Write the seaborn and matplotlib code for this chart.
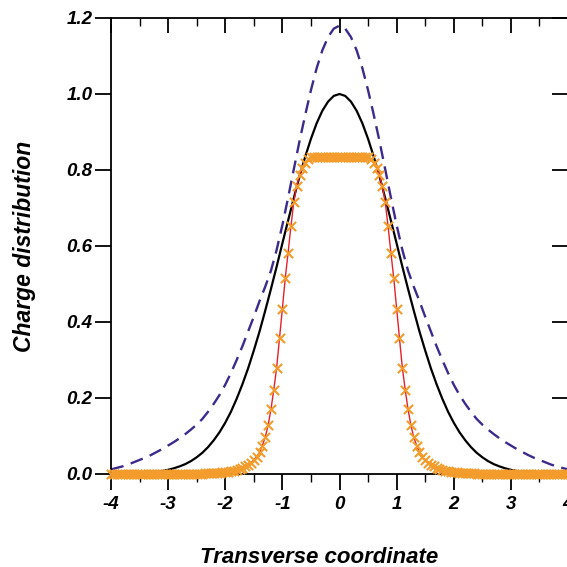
import numpy as np
import pandas as pd
import matplotlib
matplotlib.use("Agg")
import matplotlib.pyplot as plt
from matplotlib.ticker import MultipleLocator
import seaborn as sns

# ---- data -------------------------------------------------------------
# Gaussian reference profile (solid black), sampled every 0.1
x_gauss = [-4.0, -3.9, -3.8, -3.7, -3.6, -3.5, -3.4, -3.3, -3.2, -3.1,
           -3.0, -2.9, -2.8, -2.7, -2.6, -2.5, -2.4, -2.3, -2.2, -2.1,
           -2.0, -1.9, -1.8, -1.7, -1.6, -1.5, -1.4, -1.3, -1.2, -1.1,
           -1.0, -0.9, -0.8, -0.7, -0.6, -0.5, -0.4, -0.3, -0.2, -0.1,
           0.0, 0.1, 0.2, 0.3, 0.4, 0.5, 0.6, 0.7, 0.8, 0.9,
           1.0, 1.1, 1.2, 1.3, 1.4, 1.5, 1.6, 1.7, 1.8, 1.9,
           2.0, 2.1, 2.2, 2.3, 2.4, 2.5, 2.6, 2.7, 2.8, 2.9,
           3.0, 3.1, 3.2, 3.3, 3.4, 3.5, 3.6, 3.7, 3.8, 3.9, 4.0]
y_gauss = [0.000, 0.000, 0.001, 0.001, 0.002, 0.002, 0.003, 0.004, 0.006, 0.008,
           0.011, 0.015, 0.020, 0.026, 0.034, 0.044, 0.056, 0.071, 0.089, 0.110,
           0.135, 0.164, 0.198, 0.236, 0.278, 0.325, 0.375, 0.430, 0.487, 0.546,
           0.607, 0.667, 0.726, 0.783, 0.835, 0.882, 0.923, 0.956, 0.980, 0.995,
           1.000, 0.995, 0.980, 0.956, 0.923, 0.882, 0.835, 0.783, 0.726, 0.667,
           0.607, 0.546, 0.487, 0.430, 0.375, 0.325, 0.278, 0.236, 0.198, 0.164,
           0.135, 0.110, 0.089, 0.071, 0.056, 0.044, 0.034, 0.026, 0.020, 0.015,
           0.011, 0.008, 0.006, 0.004, 0.003, 0.002, 0.002, 0.001, 0.001, 0.000, 0.000]

# Broader, higher profile (dashed purple), same sampling
x_broad = x_gauss
y_broad = [0.012, 0.016, 0.020, 0.025, 0.031, 0.037, 0.043, 0.050, 0.058, 0.066,
           0.075, 0.084, 0.094, 0.105, 0.117, 0.130, 0.145, 0.164, 0.185, 0.208,
           0.235, 0.266, 0.300, 0.336, 0.375, 0.414, 0.455, 0.493, 0.535, 0.590,
           0.655, 0.727, 0.802, 0.876, 0.945, 1.010, 1.068, 1.115, 1.150, 1.172,
           1.180, 1.172, 1.150, 1.115, 1.068, 1.010, 0.945, 0.876, 0.802, 0.727,
           0.655, 0.590, 0.535, 0.493, 0.455, 0.414, 0.375, 0.336, 0.300, 0.266,
           0.235, 0.208, 0.185, 0.164, 0.145, 0.130, 0.117, 0.105, 0.094, 0.084,
           0.075, 0.066, 0.058, 0.050, 0.043, 0.037, 0.031, 0.025, 0.020, 0.016, 0.012]

# Flat-top profile (red line with orange markers), sampled every 0.05
x_flat = [-4.00, -3.95, -3.90, -3.85, -3.80, -3.75, -3.70, -3.65, -3.60, -3.55,
          -3.50, -3.45, -3.40, -3.35, -3.30, -3.25, -3.20, -3.15, -3.10, -3.05,
          -3.00, -2.95, -2.90, -2.85, -2.80, -2.75, -2.70, -2.65, -2.60, -2.55,
          -2.50, -2.45, -2.40, -2.35, -2.30, -2.25, -2.20, -2.15, -2.10, -2.05,
          -2.00, -1.95, -1.90, -1.85, -1.80, -1.75, -1.70, -1.65, -1.60, -1.55,
          -1.50, -1.45, -1.40, -1.35, -1.30, -1.25, -1.20, -1.15, -1.10, -1.05,
          -1.00, -0.95, -0.90, -0.85, -0.80, -0.75, -0.70, -0.65, -0.60, -0.55,
          -0.50, -0.45, -0.40, -0.35, -0.30, -0.25, -0.20, -0.15, -0.10, -0.05,
          0.00, 0.05, 0.10, 0.15, 0.20, 0.25, 0.30, 0.35, 0.40, 0.45,
          0.50, 0.55, 0.60, 0.65, 0.70, 0.75, 0.80, 0.85, 0.90, 0.95,
          1.00, 1.05, 1.10, 1.15, 1.20, 1.25, 1.30, 1.35, 1.40, 1.45,
          1.50, 1.55, 1.60, 1.65, 1.70, 1.75, 1.80, 1.85, 1.90, 1.95,
          2.00, 2.05, 2.10, 2.15, 2.20, 2.25, 2.30, 2.35, 2.40, 2.45,
          2.50, 2.55, 2.60, 2.65, 2.70, 2.75, 2.80, 2.85, 2.90, 2.95,
          3.00, 3.05, 3.10, 3.15, 3.20, 3.25, 3.30, 3.35, 3.40, 3.45,
          3.50, 3.55, 3.60, 3.65, 3.70, 3.75, 3.80, 3.85, 3.90, 3.95, 4.00]
y_flat = [0.000, 0.000, 0.000, 0.000, 0.000, 0.000, 0.000, 0.000, 0.000, 0.000,
          0.000, 0.000, 0.000, 0.000, 0.000, 0.000, 0.000, 0.000, 0.000, 0.000,
          0.000, 0.000, 0.000, 0.000, 0.000, 0.000, 0.000, 0.001, 0.001, 0.001,
          0.001, 0.001, 0.001, 0.002, 0.002, 0.002, 0.002, 0.003, 0.003, 0.004,
          0.005, 0.006, 0.007, 0.009, 0.011, 0.013, 0.016, 0.020, 0.024, 0.030,
          0.037, 0.045, 0.057, 0.075, 0.097, 0.128, 0.170, 0.222, 0.280, 0.357,
          0.435, 0.515, 0.582, 0.652, 0.716, 0.757, 0.787, 0.806, 0.818, 0.828,
          0.833, 0.835, 0.835, 0.835, 0.835, 0.835, 0.835, 0.835, 0.835, 0.835,
          0.835, 0.835, 0.835, 0.835, 0.835, 0.835, 0.835, 0.835, 0.835, 0.835,
          0.833, 0.828, 0.818, 0.806, 0.787, 0.757, 0.716, 0.652, 0.582, 0.515,
          0.435, 0.357, 0.280, 0.222, 0.170, 0.128, 0.097, 0.075, 0.057, 0.045,
          0.037, 0.030, 0.024, 0.020, 0.016, 0.013, 0.011, 0.009, 0.007, 0.006,
          0.005, 0.004, 0.003, 0.003, 0.002, 0.002, 0.002, 0.002, 0.001, 0.001,
          0.001, 0.001, 0.001, 0.001, 0.000, 0.000, 0.000, 0.000, 0.000, 0.000,
          0.000, 0.000, 0.000, 0.000, 0.000, 0.000, 0.000, 0.000, 0.000, 0.000,
          0.000, 0.000, 0.000, 0.000, 0.000, 0.000, 0.000, 0.000, 0.000, 0.000, 0.000]

x_ticks = [-4, -3, -2, -1, 0, 1, 2, 3, 4]
y_ticks = [0.0, 0.2, 0.4, 0.6, 0.8, 1.0, 1.2]

# ---- style ------------------------------------------------------------
sns.set_theme(style="ticks")
plt.rcParams["font.family"] = ["Liberation Sans", "DejaVu Sans"]
plt.rcParams["axes.unicode_minus"] = False
plt.rcParams["text.color"] = "black"
plt.rcParams["axes.labelcolor"] = "black"
plt.rcParams["xtick.color"] = "black"
plt.rcParams["ytick.color"] = "black"
plt.rcParams["xtick.labelcolor"] = "black"
plt.rcParams["ytick.labelcolor"] = "black"

fig = plt.figure(figsize=(5.67, 5.67), dpi=100)
ax = fig.add_axes([111 / 567, 1 - 474 / 567, 457 / 567, 456 / 567])

gauss_df = pd.DataFrame({"x": x_gauss, "y": y_gauss})
broad_df = pd.DataFrame({"x": x_broad, "y": y_broad})
flat_df = pd.DataFrame({"x": x_flat, "y": y_flat})

sns.lineplot(data=broad_df, x="x", y="y", ax=ax, color="#3d2a8c",
             linewidth=1.7, sort=False, zorder=2)
ax.lines[-1].set_dashes((5.5, 3.2))
sns.lineplot(data=gauss_df, x="x", y="y", ax=ax, color="black",
             linewidth=1.6, sort=False, zorder=3)
sns.lineplot(data=flat_df, x="x", y="y", ax=ax, color="#e8202a",
             linewidth=1.0, sort=False, zorder=4)
sns.scatterplot(data=flat_df, x="x", y="y", ax=ax, marker="x",
                color="#f39c2c", s=44, linewidth=1.5, zorder=5)
for coll in ax.collections:
    coll.set_clip_on(False)

ax.set_xlim(-4, 4)
ax.set_ylim(0, 1.2)
ax.set_xticks(x_ticks)
ax.set_yticks(y_ticks)
ax.xaxis.set_minor_locator(MultipleLocator(0.5))

for sp in ax.spines.values():
    sp.set_visible(True)
    sp.set_linewidth(1.3)
    sp.set_color("black")

lab_font = dict(fontsize=13.5, fontweight="bold", fontstyle="italic",
                color="black")
ax.set_xticklabels([str(v) for v in x_ticks], **lab_font)
ax.set_yticklabels(["%.1f" % v for v in y_ticks], **lab_font)

ax.tick_params(axis="x", which="major", direction="out", length=11.5,
               width=1.3, pad=4, top=True, color="black")
ax.tick_params(axis="x", which="minor", direction="out", length=6,
               width=1.0, top=True, color="black")
ax.tick_params(axis="y", which="major", direction="out", length=11.5,
               width=1.3, pad=2, right=True, color="black")
ax.tick_params(axis="y", which="minor", left=False, right=False)

# top and right ticks point inward
for t in ax.xaxis.get_major_ticks():
    t.tick2line.set_marker(matplotlib.lines.TICKDOWN)
    t.tick2line.set_markersize(11)
for t in ax.xaxis.get_minor_ticks():
    t.tick2line.set_marker(matplotlib.lines.TICKDOWN)
    t.tick2line.set_markersize(6)
for t in ax.yaxis.get_major_ticks():
    t.tick2line.set_marker(matplotlib.lines.TICKLEFT)
    t.tick2line.set_markersize(11.5)
    t.tick2line.set_color("#777777")

ax.set_xlabel("Transverse coordinate", fontsize=16, fontweight="bold",
              fontstyle="italic", color="black")
ax.set_ylabel("Charge distribution", fontsize=16.5, fontweight="bold",
              fontstyle="italic", color="black")
ax.xaxis.set_label_coords(0.455, -0.16)
ax.yaxis.set_label_coords(-0.165, 0.5)

fig.savefig("out.png", dpi=100)
